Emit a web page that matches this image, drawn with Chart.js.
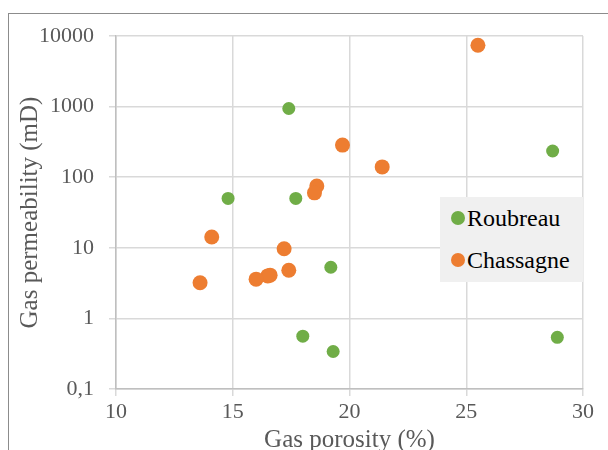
<!DOCTYPE html>
<html>
<head>
<meta charset="utf-8">
<script src="https://cdn.jsdelivr.net/npm/chart.js@4.4.1/dist/chart.umd.min.js"></script>
<style>
  html, body { margin: 0; padding: 0; background: #ffffff; }
  #wrap { position: relative; width: 608px; height: 450px; overflow: hidden; }
  #frame { position: absolute; left: 8px; top: 13px; width: 620px; height: 460px; border-left: 1px solid #8c8c8c; border-top: 1px solid #8c8c8c; pointer-events: none; }
  #legend { position: absolute; left: 440px; top: 197px; width: 143px; height: 85px; background: #f0f0f0; font-family: "Liberation Serif", serif; font-size: 24px; color: #000; }
  .item { position: absolute; left: 11px; height: 28px; line-height: 28px; white-space: nowrap; }
  .dot { display: inline-block; width: 14px; height: 14px; border-radius: 50%; vertical-align: middle; margin-right: 2px; position: relative; top: -2px; }
</style>
</head>
<body>
<div id="wrap">
  <canvas id="c" width="608" height="450"></canvas>
  <div id="frame"></div>
  <div id="legend"></div>
</div>
<script>
// ---- Data ----
const seriesNames = ['Roubreau', 'Chassagne'];
const seriesColors = ['#70ad47', '#ed7d31'];

const roubreauPorosity     = [17.4, 28.7, 14.8, 17.7, 19.2, 18.0, 19.3, 28.9];
const roubreauPermeability = [940, 235, 50, 50, 5.3, 0.56, 0.34, 0.54];

const chassagnePorosity     = [25.5, 19.7, 21.4, 18.6, 18.5, 14.1, 17.2, 17.4, 16.5, 16.6, 16.0, 13.6];
const chassagnePermeability = [7400, 285, 140, 75, 60, 14.2, 9.7, 4.8, 4.0, 4.1, 3.6, 3.2];

const xTicks = [10, 15, 20, 25, 30];
const yTicks = [0.1, 1, 10, 100, 1000, 10000];
const yTickLabels = ['0,1', '1', '10', '100', '1000', '10000'];

const xTitle = 'Gas porosity (%)';
const yTitle = 'Gas permeability (mD)';

// ---- Build ----
function pts(xs, ys) { return xs.map((x, i) => ({ x: x, y: ys[i] })); }

const font = 'Liberation Serif';
const grey = '#595959';
const gridColor = '#d9d9d9';

new Chart(document.getElementById('c'), {
  type: 'scatter',
  data: {
    datasets: [
      { label: seriesNames[0], data: pts(roubreauPorosity, roubreauPermeability),
        backgroundColor: seriesColors[0], borderWidth: 0, pointRadius: 6.5, pointHoverRadius: 6.5 },
      { label: seriesNames[1], data: pts(chassagnePorosity, chassagnePermeability),
        backgroundColor: seriesColors[1], borderWidth: 0, pointRadius: 7.5, pointHoverRadius: 7.5 }
    ]
  },
  options: {
    responsive: false,
    animation: false,
    events: [],
    layout: { padding: { left: 0, right: 25, top: 36, bottom: 0 } },
    plugins: { legend: { display: false }, tooltip: { enabled: false } },
    scales: {
      x: {
        type: 'linear', min: xTicks[0], max: xTicks[xTicks.length - 1],
        afterBuildTicks: s => { s.ticks = xTicks.map(v => ({ value: v })); },
        afterFit: s => { s.height = 61; },
        ticks: { color: grey, font: { family: font, size: 22 }, padding: 3, maxRotation: 0 },
        grid: { color: gridColor, lineWidth: 1.5, tickLength: 7, drawTicks: true },
        border: { color: '#bfbfbf', width: 1.5 },
        title: { display: true, text: xTitle, color: grey, font: { family: font, size: 25, lineHeight: 0.8 }, padding: { top: 0, bottom: 0 } }
      },
      y: {
        type: 'logarithmic', min: yTicks[0], max: yTicks[yTicks.length - 1],
        afterBuildTicks: s => { s.ticks = yTicks.map(v => ({ value: v })); },
        afterFit: s => { s.width = 116; },
        ticks: { color: grey, font: { family: font, size: 22 }, padding: 15,
          callback: (v) => { const i = yTicks.indexOf(v); return i >= 0 ? yTickLabels[i] : ''; } },
        grid: { color: gridColor, lineWidth: 1.5, tickLength: 7, drawTicks: true },
        border: { color: '#bfbfbf', width: 1.5 },
        title: { display: true, text: yTitle, color: grey, font: { family: font, size: 25, lineHeight: 0.8 }, padding: { top: 20, bottom: 0 } }
      }
    }
  }
});

// HTML legend
const legend = document.getElementById('legend');
seriesNames.forEach((name, i) => {
  const d = document.createElement('div');
  d.className = 'item';
  d.style.top = (7 + i * 42) + 'px';
  d.innerHTML = '<span class="dot" style="background:' + seriesColors[i] + '"></span>' + name;
  legend.appendChild(d);
});
</script>
</body>
</html>
